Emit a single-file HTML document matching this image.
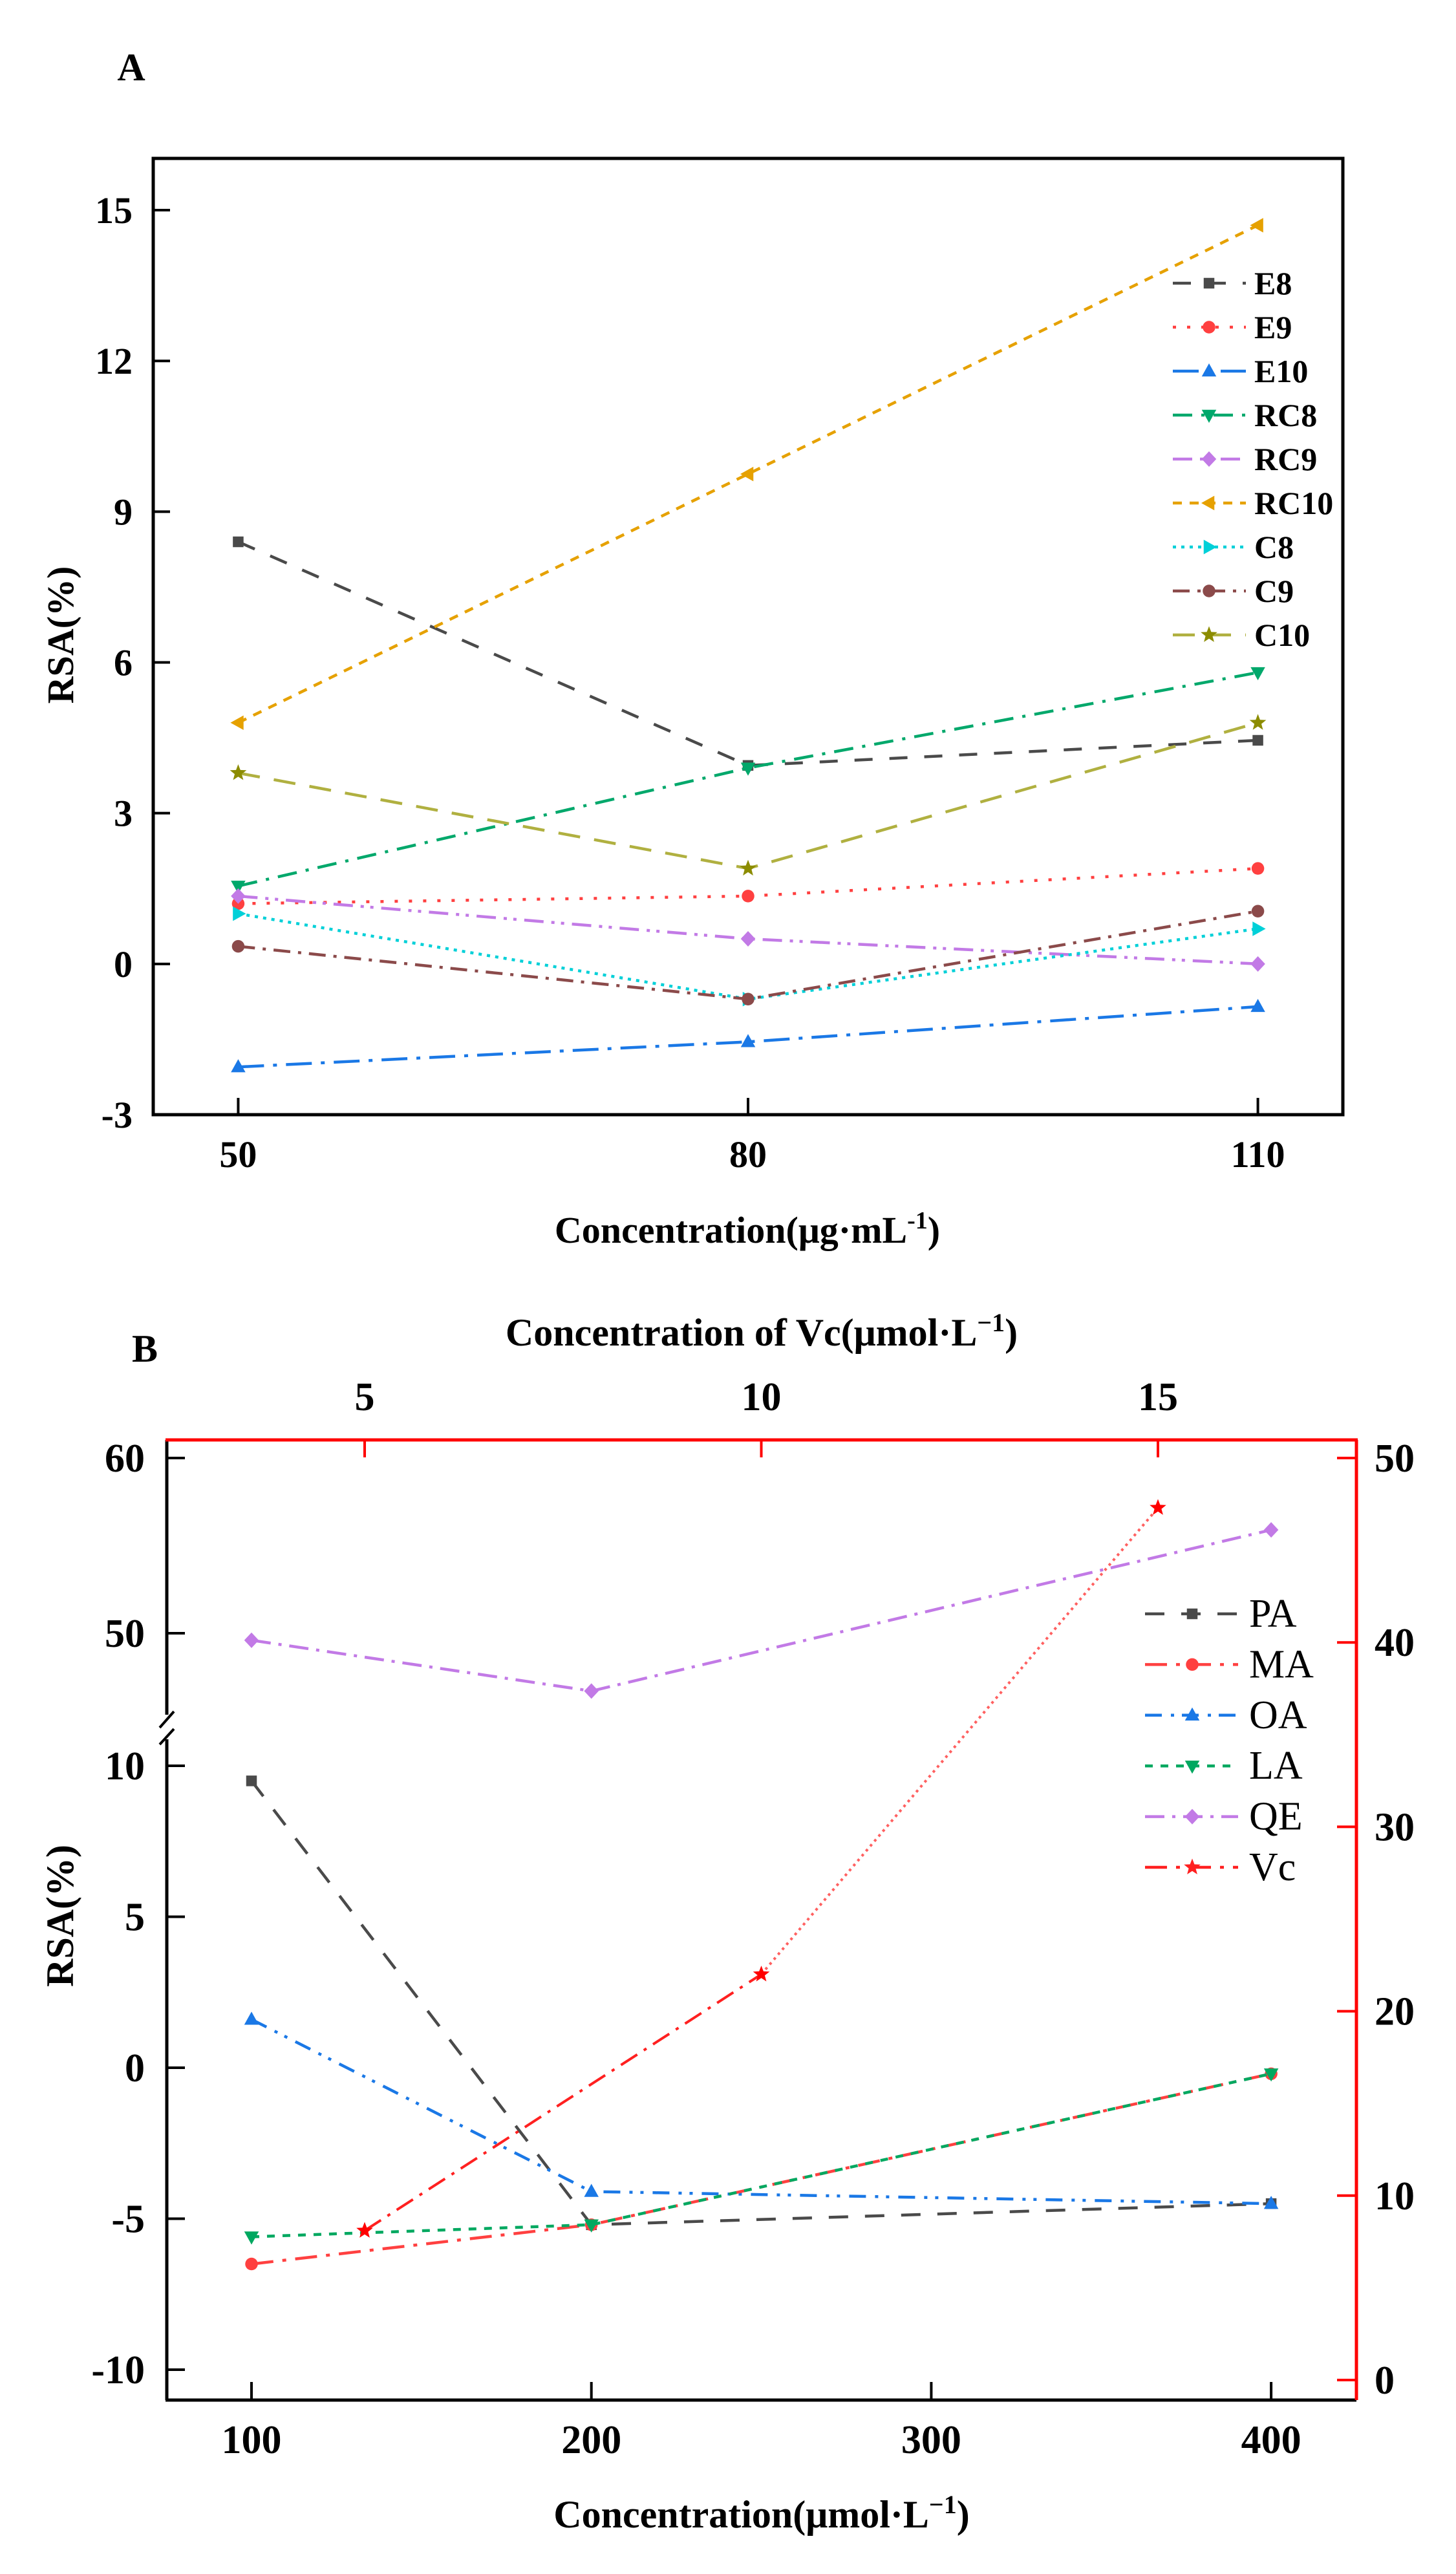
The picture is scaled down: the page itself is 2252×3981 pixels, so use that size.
<!DOCTYPE html>
<html><head><meta charset="utf-8"><style>
html,body{margin:0;padding:0;background:#fff;}
svg{display:block;}
text{font-family:"Liberation Serif",serif;}
</style></head><body>
<svg id="fig" width="2252" height="3981" viewBox="0 0 2252 3981" xmlns="http://www.w3.org/2000/svg">
<rect width="2252" height="3981" fill="#fff"/>
<g id="A"></g>
<g id="B"></g>
</svg>
<script>
// ---------- Panel A data ----------
const catsA = [50, 80, 110];
const namesA = ["E8","E9","E10","RC8","RC9","RC10","C8","C9","C10"];
const e8 = [8.4, 3.95, 4.45];
const e9 = [1.2, 1.35, 1.9];
const e10 = [-2.05, -1.55, -0.85];
const rc8 = [1.55, 3.9, 5.8];
const rc9 = [1.35, 0.5, 0.0];
const rc10 = [4.8, 9.75, 14.7];
const c8 = [1.0, -0.7, 0.7];
const c9 = [0.35, -0.7, 1.05];
const c10 = [3.8, 1.9, 4.8];
const yTicksA = [-3, 0, 3, 6, 9, 12, 15];
// ---------- Panel B data ----------
const catsB = [100, 200, 400];
const xTicksB = [100, 200, 300, 400];
const pa = [9.5, -5.2, -4.5];
const ma = [-6.5, -5.2, -0.2];
const oa = [1.6, -4.1, -4.5];
const la = [-5.6, -5.2, -0.2];
const qe = [49.6, 46.7, 55.9];
const vcX = [5, 10, 15];
const vcY = [8.1, 22.0, 47.3];
const yTicksBLow = [-10, -5, 0, 5, 10];
const yTicksBHigh = [50, 60];
const yTicksBRight = [0, 10, 20, 30, 40, 50];
const xTicksBTop = [5, 10, 15];

const NS = "http://www.w3.org/2000/svg";
function mk(parent, tag, attrs, txt){
  const e = document.createElementNS(NS, tag);
  for (const k in attrs) e.setAttribute(k, attrs[k]);
  if (txt !== undefined) e.textContent = txt;
  parent.appendChild(e);
  return e;
}
function marker(g, type, x, y, color, s){
  let el;
  if (type==="sq") el = mk(g,"rect",{x:x-s*0.55,y:y-s*0.55,width:s*1.1,height:s*1.1,fill:color});
  else if (type==="ci") el = mk(g,"circle",{cx:x,cy:y,r:s*0.65,fill:color});
  else if (type==="tu") el = mk(g,"polygon",{points:`${x},${y-s*0.8} ${x+s*0.75},${y+s*0.55} ${x-s*0.75},${y+s*0.55}`,fill:color});
  else if (type==="td") el = mk(g,"polygon",{points:`${x},${y+s*0.8} ${x+s*0.75},${y-s*0.55} ${x-s*0.75},${y-s*0.55}`,fill:color});
  else if (type==="di") el = mk(g,"polygon",{points:`${x},${y-s*0.8} ${x+s*0.75},${y} ${x},${y+s*0.8} ${x-s*0.75},${y}`,fill:color});
  else if (type==="tl") el = mk(g,"polygon",{points:`${x-s*0.8},${y} ${x+s*0.55},${y-s*0.75} ${x+s*0.55},${y+s*0.75}`,fill:color});
  else if (type==="tr") el = mk(g,"polygon",{points:`${x+s*0.8},${y} ${x-s*0.55},${y-s*0.75} ${x-s*0.55},${y+s*0.75}`,fill:color});
  else if (type==="st"){
    let p=[];
    for(let i=0;i<10;i++){const r=i%2?s*0.38:s*0.9;const a=-Math.PI/2+i*Math.PI/5;p.push((x+r*Math.cos(a)).toFixed(1)+","+(y+r*Math.sin(a)).toFixed(1));}
    el = mk(g,"polygon",{points:p.join(" "),fill:color});
  }
  
  
  return el;
}

// ================= PANEL A =================
(function(){
  const g = document.getElementById("A");
  const L=237,R=2077,T=245,B=1724;
  const xd=[45,115], yd=[-3,16.03];
  const sx=v=>L+(v-xd[0])/(xd[1]-xd[0])*(R-L);
  const sy=v=>B-(v-yd[0])/(yd[1]-yd[0])*(B-T);
  let t;
  t=mk(g,"text",{x:203,y:124,"font-size":60,"font-weight":"bold","text-anchor":"middle"},"A");
   
  const series=[
    {n:"E8",d:e8,c:"#4a4a4a",m:"sq",da:"28 26"},
    {n:"E9",d:e9,c:"#ff4040",m:"ci",da:"5 17"},
    {n:"E10",d:e10,c:"#1a78e6",m:"tu",da:"40 14 6 14"},
    {n:"RC8",d:rc8,c:"#00a86b",m:"td",da:"30 14 5 14"},
    {n:"RC9",d:rc9,c:"#c27ae6",m:"di",da:"30 12 5 10 5 12"},
    {n:"RC10",d:rc10,c:"#e6a100",m:"tl",da:"14 12"},
    {n:"C8",d:c8,c:"#00d0d8",m:"tr",da:"5 8"},
    {n:"C9",d:c9,c:"#8b4a4a",m:"ci",da:"26 12 5 12"},
    {n:"C10",d:c10,c:"#b0b040",m:"st",da:"34 22"}
  ];
  const mc={"C10":"#8c8c00"};
  series.forEach((s,i)=>{
    const sg=mk(g,"g",{});
    
    
    const pts=catsA.map((c,j)=>sx(c).toFixed(1)+","+sy(s.d[j]).toFixed(1)).join(" ");
    const pl=mk(sg,"polyline",{points:pts,fill:"none",stroke:s.c,"stroke-width":4.5,"stroke-dasharray":s.da,"stroke-linecap":"butt"});
    
    
    catsA.forEach((c,j)=>marker(sg,s.m,sx(c),sy(s.d[j]),mc[s.n]||s.c,15));
    // legend
    const ly=438+i*68;
    const lg=mk(g,"g",{});
    
    
    mk(lg,"line",{x1:1814,y1:ly,x2:1927,y2:ly,stroke:s.c,"stroke-width":4.5,"stroke-dasharray":s.da});
    marker(lg,s.m,1870,ly,mc[s.n]||s.c,15);
    mk(lg,"text",{x:1940,y:ly+17,"font-size":50,"font-weight":"bold"},s.n);
  });
  // frame
  const fr=mk(g,"rect",{x:L,y:T,width:R-L,height:B-T,fill:"none",stroke:"#000","stroke-width":5});
   
  yTicksA.forEach(v=>{
    mk(g,"line",{x1:L,y1:sy(v),x2:L+26,y2:sy(v),stroke:"#000","stroke-width":4});
    const tt=mk(g,"text",{x:205,y:sy(v)+20,"font-size":58,"font-weight":"bold","text-anchor":"end"},String(v));
     
  });
  catsA.forEach(v=>{
    mk(g,"line",{x1:sx(v),y1:B,x2:sx(v),y2:B-26,stroke:"#000","stroke-width":4});
    const tt=mk(g,"text",{x:sx(v),y:1805,"font-size":58,"font-weight":"bold","text-anchor":"middle"},String(v));
     
  });
  t=mk(g,"text",{x:1156,y:1922,"font-size":58,"font-weight":"bold","text-anchor":"middle"});
  t.innerHTML='Concentration(μg·mL<tspan dy="-22" font-size="38">-1</tspan><tspan dy="22">)</tspan>';
   
  t=mk(g,"text",{x:0,y:0,"font-size":58,"font-weight":"bold","text-anchor":"middle",transform:"translate(113,982) rotate(-90)"},"RSA(%)");
   
})();

// ================= PANEL B =================
(function(){
  const g=document.getElementById("B");
  const L=258,R=2098,T=2227,B=3712;
  const sx=v=>389+(v-100)*5.257;
  const sxTop=v=>564+(v-5)*122.7;
  const syLow=v=>3198-v*46.7;
  const syHigh=v=>2526-(v-50)*27.1;
  const syR=v=>3681-v*28.52;
  let t;
  t=mk(g,"text",{x:224,y:2106,"font-size":60,"font-weight":"bold","text-anchor":"middle"},"B");
   
  const series=[
    {n:"PA",d:pa,c:"#4a4a4a",m:"sq",da:"30 26",sc:syLow},
    {n:"OA",d:oa,c:"#1a78e6",m:"tu",da:"26 14 5 12 5 14",sc:syLow},
    {n:"MA",d:ma,c:"#ff4040",m:"ci",da:"34 14 6 14",sc:syLow},
    {n:"LA",d:la,c:"#00a860",m:"td",da:"12 12",sc:syLow},
    {n:"QE",d:qe,c:"#c27ae6",m:"di",da:"30 12 5 12",sc:syHigh}
  ];
  series.forEach(s=>{
    const sg=mk(g,"g",{});
    
    
    const pts=catsB.map((c,j)=>sx(c).toFixed(1)+","+s.sc(s.d[j]).toFixed(1)).join(" ");
    const pl=mk(sg,"polyline",{points:pts,fill:"none",stroke:s.c,"stroke-width":4.5,"stroke-dasharray":s.da});
    
    
    catsB.forEach((c,j)=>marker(sg,s.m,sx(c),s.sc(s.d[j]),s.c,15));
  });
  // Vc series on top/right axes
  const vg=mk(g,"g",{});
   
  for(let j=0;j<vcX.length-1;j++){
    const seg=mk(vg,"line",{x1:sxTop(vcX[j]),y1:syR(vcY[j]),x2:sxTop(vcX[j+1]),y2:syR(vcY[j+1]),stroke:j===0?"#ff2020":"#ff6060","stroke-width":4,"stroke-dasharray":j===0?"30 12 5 12":"4 6"});
     
  }
  vcX.forEach((v,j)=>marker(vg,"st",sxTop(v),syR(vcY[j]),"#ff0000",15));
  // legend
  const leg=[["PA","#4a4a4a","sq","30 26"],["MA","#ff4040","ci","34 14 6 14"],["OA","#1a78e6","tu","26 14 5 12"],["LA","#00a860","td","12 12"],["QE","#c27ae6","di","30 12 5 12"],["Vc","#ff2020","st","34 14 6 14"]];
  leg.forEach((l,i)=>{
    const ly=2496+i*78.4;
    const lg=mk(g,"g",{});
    
    
    mk(lg,"line",{x1:1771,y1:ly,x2:1915,y2:ly,stroke:l[1],"stroke-width":4.5,"stroke-dasharray":l[3]});
    marker(lg,l[2],1844,ly,l[1],15);
    mk(lg,"text",{x:1932,y:ly+20,"font-size":62},l[0]);
  });
  // frame: left + bottom black, top + right red
  const ax=mk(g,"g",{});
   
  mk(ax,"line",{x1:L,y1:T,x2:L,y2:2652,stroke:"#000","stroke-width":5});
  mk(ax,"line",{x1:L,y1:2690,x2:L,y2:B,stroke:"#000","stroke-width":5});
  mk(ax,"line",{x1:247,y1:2672,x2:269,y2:2647,stroke:"#000","stroke-width":4});
  mk(ax,"line",{x1:247,y1:2698,x2:269,y2:2674,stroke:"#000","stroke-width":4});
  mk(ax,"line",{x1:L-2,y1:B,x2:R,y2:B,stroke:"#000","stroke-width":5});
  mk(ax,"line",{x1:L-2,y1:T,x2:R+2,y2:T,stroke:"#ff0000","stroke-width":5});
  mk(ax,"line",{x1:R,y1:T,x2:R,y2:B,stroke:"#ff0000","stroke-width":5});
  yTicksBLow.forEach(v=>{
    mk(ax,"line",{x1:L,y1:syLow(v),x2:L+28,y2:syLow(v),stroke:"#000","stroke-width":4});
    const tt=mk(ax,"text",{x:224,y:syLow(v)+21,"font-size":62,"font-weight":"bold","text-anchor":"end"},String(v));
     
  });
  yTicksBHigh.forEach(v=>{
    mk(ax,"line",{x1:L,y1:syHigh(v),x2:L+28,y2:syHigh(v),stroke:"#000","stroke-width":4});
    const tt=mk(ax,"text",{x:224,y:syHigh(v)+21,"font-size":62,"font-weight":"bold","text-anchor":"end"},String(v));
     
  });
  yTicksBRight.forEach(v=>{
    mk(ax,"line",{x1:R,y1:syR(v),x2:R-30,y2:syR(v),stroke:"#ff0000","stroke-width":4});
    const tt=mk(ax,"text",{x:2126,y:syR(v)+21,"font-size":62,"font-weight":"bold"},String(v));
     
  });
  xTicksB.forEach(v=>{
    mk(ax,"line",{x1:sx(v),y1:B,x2:sx(v),y2:B-28,stroke:"#000","stroke-width":4});
    const tt=mk(ax,"text",{x:sx(v),y:3794,"font-size":62,"font-weight":"bold","text-anchor":"middle"},String(v));
     
  });
  xTicksBTop.forEach(v=>{
    mk(ax,"line",{x1:sxTop(v),y1:T,x2:sxTop(v),y2:T+27,stroke:"#ff0000","stroke-width":4});
    const tt=mk(ax,"text",{x:sxTop(v),y:2181,"font-size":62,"font-weight":"bold","text-anchor":"middle"},String(v));
     
  });
  t=mk(g,"text",{x:1178,y:2081,"font-size":60,"font-weight":"bold","text-anchor":"middle"});
  t.innerHTML='Concentration of Vc(μmol·L<tspan dy="-22" font-size="40">−1</tspan><tspan dy="22">)</tspan>';
   
  t=mk(g,"text",{x:1178,y:3909,"font-size":60,"font-weight":"bold","text-anchor":"middle"});
  t.innerHTML='Concentration(μmol·L<tspan dy="-22" font-size="40">−1</tspan><tspan dy="22">)</tspan>';
   
  t=mk(g,"text",{x:0,y:0,"font-size":60,"font-weight":"bold","text-anchor":"middle",transform:"translate(113,2963) rotate(-90)"},"RSA(%)");
   
})();
</script>
</body></html>
